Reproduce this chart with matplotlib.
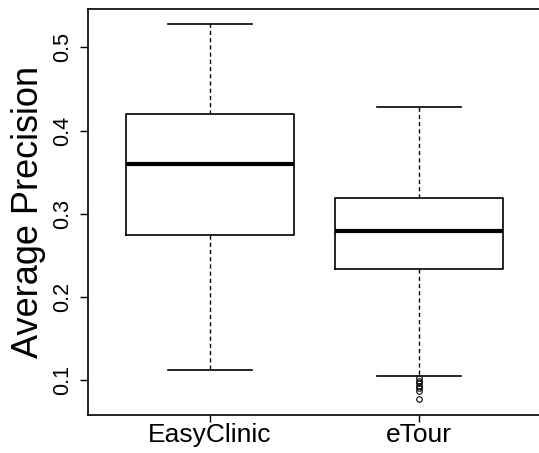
import matplotlib
matplotlib.use('Agg')
import matplotlib.pyplot as plt

plt.rc('font', family='Liberation Sans')

# summary statistics per project
projects  = ['EasyClinic', 'eTour']
whislo    = [0.112, 0.105]
q1        = [0.274, 0.233]
median    = [0.360, 0.279]
q3        = [0.420, 0.319]
whishi    = [0.528, 0.428]
outliers  = [[], [0.102, 0.099, 0.096, 0.093, 0.090, 0.087, 0.077]]

stats = []
for i in range(len(projects)):
    stats.append(dict(label=projects[i], whislo=whislo[i], q1=q1[i], med=median[i],
                      q3=q3[i], whishi=whishi[i], fliers=outliers[i]))

fig = plt.figure(figsize=(5.39, 4.53), dpi=100)
ax = fig.add_axes([0.1633, 0.0839, 0.8404, 0.8962])

ax.bxp(stats, positions=[1, 2], widths=0.8, capwidths=0.4,
       boxprops=dict(color='black', linewidth=1.2),
       medianprops=dict(color='black', linewidth=3),
       whiskerprops=dict(color='black', linewidth=1, linestyle=(0, (3, 2.2))),
       capprops=dict(color='black', linewidth=1.2),
       flierprops=dict(marker='o', markerfacecolor='none', markeredgecolor='black',
                       markersize=4, markeredgewidth=0.8))

ax.set_xlim(0.42, 2.58)
ax.set_ylim(0.058, 0.5462)
ax.set_yticks([0.1, 0.2, 0.3, 0.4, 0.5])
ax.set_yticklabels(['0.1', '0.2', '0.3', '0.4', '0.5'], rotation=90, va='center')
ax.tick_params(axis='y', labelsize=15.5, length=6, width=1, pad=5)
ax.tick_params(axis='x', labelsize=19, length=5, width=1, pad=1)
ax.set_ylabel('Average Precision', fontsize=26, labelpad=4)

for s in ax.spines.values():
    s.set_linewidth(1.2)

plt.savefig('out.png', dpi=100)
